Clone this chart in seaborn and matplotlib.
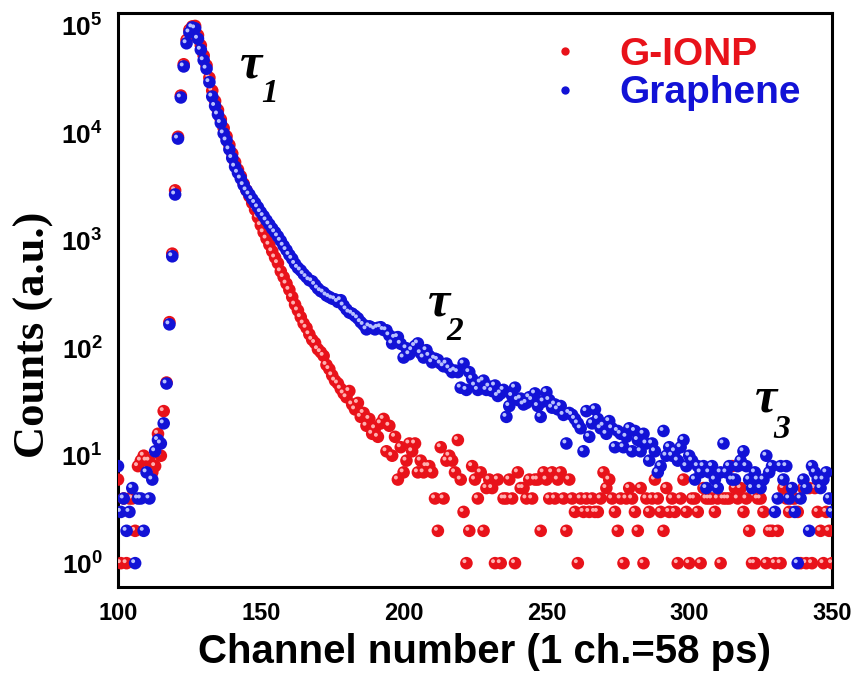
import numpy as np
import pandas as pd
import matplotlib
matplotlib.use('Agg')
import matplotlib.pyplot as plt
import matplotlib.transforms as mtransforms
from matplotlib.lines import Line2D
from matplotlib.ticker import LogLocator, MultipleLocator, NullFormatter
import seaborn as sns

# channel numbers (1 ch. = 58 ps)
channels = list(range(100, 351))

# G-IONP decay counts, channel 100..350
gionp_counts = [
    6, 1, 4, 1, 4, 4, 2, 8, 9, 10,                      # 100
    9, 9, 7, 8, 16, 10, 26, 48, 175, 760,               # 110
    2950, 9300, 22500, 44000, 74000, 92000, 99000, 100000, 82000, 66000,  # 120
    53000, 43000, 33000, 25000, 20000, 16500, 13500, 11200, 9400, 7800,   # 130
    6500, 5400, 4600, 4000, 3400, 2950, 2600, 2250, 1950, 1650,           # 140
    1400, 1200, 1050, 920, 800, 700, 620, 520, 460, 400,                  # 150
    350, 300, 255, 225, 195, 170, 155, 135, 120, 112,   # 160
    98, 92, 85, 70, 64, 56, 50, 47, 42, 38,             # 170
    35, 40, 30, 27, 31, 23, 25, 19, 22, 16,             # 180
    18, 15, 20, 22, 11, 19, 10, 15, 6, 12,              # 190
    7, 9, 13, 11, 13, 7, 9, 7, 8, 8,                    # 200
    7, 4, 2, 12, 4, 9, 10, 9, 7, 14,                    # 210
    6, 3, 1, 2, 8, 6, 4, 7, 2, 5,                       # 220
    6, 5, 1, 6, 1, 4, 4, 6, 4, 1,                       # 230
    7, 5, 5, 4, 6, 4, 6, 6, 2, 7,                       # 240
    6, 4, 7, 4, 6, 7, 4, 2, 6, 4,                       # 250
    3, 1, 4, 3, 4, 3, 4, 3, 3, 4,                       # 260
    7, 5, 6, 4, 3, 2, 4, 1, 4, 5,                       # 270
    4, 3, 2, 5, 1, 4, 3, 4, 6, 4,                       # 280
    3, 2, 5, 3, 4, 3, 1, 4, 6, 3,                       # 290
    1, 4, 4, 3, 1, 5, 4, 4, 4, 3,                       # 300
    4, 1, 4, 4, 4, 8, 5, 4, 5, 3,                       # 310
    4, 2, 1, 1, 4, 4, 3, 1, 2, 2,                       # 320
    1, 2, 1, 5, 4, 3, 4, 4, 3, 1,                       # 330
    5, 1, 5, 1, 5, 3, 2, 1, 3, 2,                       # 340
    1,                                                  # 350
]

# Graphene decay counts, channel 100..350
graphene_counts = [
    8, 3, 4, 2, 3, 5, 1, 4, 4, 2,                       # 100
    7, 4, 6, 11, 14, 13, 20, 47, 167, 718,              # 110
    2700, 8950, 21600, 42000, 69000, 87000, 97000, 95000, 76000, 60000,   # 120
    48000, 40000, 30000, 22000, 18000, 15000, 12500, 10000, 8600, 7100,   # 130
    5900, 4900, 4300, 3800, 3300, 2950, 2700, 2450, 2250, 2050,           # 140
    1850, 1700, 1550, 1420, 1300, 1200, 1100, 1000, 900, 820,             # 150
    740, 680, 610, 560, 530, 490, 460, 430, 420, 390,   # 160
    360, 340, 330, 310, 300, 290, 285, 270, 280, 250,   # 170
    230, 215, 210, 200, 190, 175, 165, 150, 160, 155,   # 180
    150, 155, 157, 148, 147, 132, 111, 125, 127, 110,   # 190
    82, 100, 88, 96, 105, 111, 90, 82, 96, 85,          # 200
    74, 80, 78, 72, 68, 72, 65, 60, 62, 60,             # 210
    43, 72, 41, 60, 52, 45, 41, 48, 50, 41,             # 220
    44, 40, 45, 36, 38, 41, 23, 29, 36, 43,             # 230
    33, 34, 30, 31, 35, 33, 38, 29, 23, 32,             # 240
    39, 33, 28, 30, 27, 29, 24, 13, 25, 24,             # 250
    22, 20, 18, 11, 26, 15, 20, 27, 22, 18,             # 260
    19, 16, 21, 18, 12, 17, 16, 12, 15, 18,             # 270
    11, 17, 14, 11, 16, 13, 9, 13, 11, 7,               # 280
    8, 17, 10, 12, 10, 11, 9, 12, 14, 8,                # 290
    10, 9, 6, 8, 7, 8, 5, 7, 8, 6,                      # 300
    5, 7, 13, 7, 8, 6, 6, 8, 9, 11,                     # 310
    8, 6, 5, 7, 6, 5, 6, 10, 7, 8,                      # 320
    3, 4, 8, 6, 8, 4, 5, 3, 1, 4,                       # 330
    6, 5, 2, 8, 7, 6, 5, 6, 7, 4,                       # 340
    3,                                                  # 350
]

samples = ['G-IONP', 'Graphene']
colours = {'G-IONP': '#e8121a', 'Graphene': '#1212d6'}
shine = {'G-IONP': '#ffb0b0', 'Graphene': '#b8c0ff'}
x_ticks = [100, 150, 200, 250, 300, 350]
y_ticks = [1, 10, 100, 1000, 10000, 100000]
y_tick_labels = [r'$\mathbf{10^{%d}}$' % i for i in range(6)]

df = pd.DataFrame({
    'channel': channels * 2,
    'counts': gionp_counts + graphene_counts,
    'sample': ['G-IONP'] * len(channels) + ['Graphene'] * len(channels),
})

sns.set_style('white')
plt.rcParams['font.family'] = ['Liberation Sans', 'DejaVu Sans']
plt.rcParams['text.color'] = 'black'
plt.rcParams['axes.labelcolor'] = 'black'
plt.rcParams['mathtext.fontset'] = 'custom'
plt.rcParams['mathtext.bf'] = 'Liberation Sans:bold'
plt.rcParams['mathtext.rm'] = 'Liberation Sans:bold'

fig = plt.figure(figsize=(8.55, 6.8), dpi=100)
ax = fig.add_axes([118 / 855, 93 / 680, 714 / 855, 574 / 680])

# shiny "sphere" look: solid dot plus a small offset highlight
shift = mtransforms.offset_copy(ax.transData, fig=fig, x=-2.0, y=2.0, units='dots')
for name in samples:
    part = df[df['sample'] == name]
    sns.scatterplot(data=part, x='channel', y='counts', color=colours[name], s=82,
                    edgecolor='none', linewidth=0, ax=ax, legend=False, zorder=3)
    ax.scatter(part['channel'], part['counts'], s=8, color=shine[name],
               edgecolors='none', transform=shift, zorder=3)

ax.set_yscale('log')
ax.set_xlim(100, 350)
ax.set_ylim(0.6, 1.32e5)

ax.set_xticks(x_ticks)
ax.set_xticklabels([str(t) for t in x_ticks], fontweight='bold', fontsize=17)
ax.xaxis.set_minor_locator(MultipleLocator(25))
ax.set_yticks(y_ticks)
ax.set_yticklabels(y_tick_labels, fontsize=19)
ax.yaxis.set_minor_locator(LogLocator(base=10, subs=np.arange(2, 10)))
ax.yaxis.set_minor_formatter(NullFormatter())

ax.tick_params(which='both', direction='out', top=False, right=False,
               width=1.8, color='black', labelcolor='black')
ax.tick_params(which='major', length=7, pad=4)
ax.tick_params(which='minor', length=4)
for sp in ax.spines.values():
    sp.set_linewidth(2.2)
    sp.set_color('black')

ax.set_xlabel('Channel number (1 ch.=58 ps)', fontsize=29, fontweight='bold', color='black')
ax.xaxis.set_label_coords(0.514, -0.08)
ax.set_ylabel('Counts (a.u.)', fontsize=32, fontweight='bold', color='black',
              family=['Liberation Serif', 'DejaVu Serif'])
ax.yaxis.set_label_coords(-0.09, 0.44)

handles = [Line2D([], [], marker='o', linestyle='none', markersize=6,
                  markerfacecolor=colours[n], markeredgecolor='none') for n in samples]
leg = ax.legend(handles, samples, loc='upper left', bbox_to_anchor=(0.599, 0.958),
                frameon=False, fontsize=28, handlelength=1.0, handletextpad=0.9,
                borderpad=0, borderaxespad=0, labelspacing=0.06)
for txt, n in zip(leg.get_texts(), samples):
    txt.set_color(colours[n])
    txt.set_fontweight('bold')

# lifetime labels
tau_font = dict(family=['Liberation Serif', 'DejaVu Serif'], style='italic',
                fontweight='bold', color='black', ha='center', va='center')
for sym, sub, (tx, ty), (sx, sy) in [('τ', '1', (251, 66), (270, 93)),
                                     ('τ', '2', (439, 304), (455, 332)),
                                     ('τ', '3', (766, 400), (782, 429))]:
    fig.text(tx / 855, 1 - ty / 680, sym, fontsize=36, **tau_font)
    fig.text(sx / 855, 1 - sy / 680, sub, fontsize=24, **tau_font)

fig.savefig('out.png', dpi=100)
